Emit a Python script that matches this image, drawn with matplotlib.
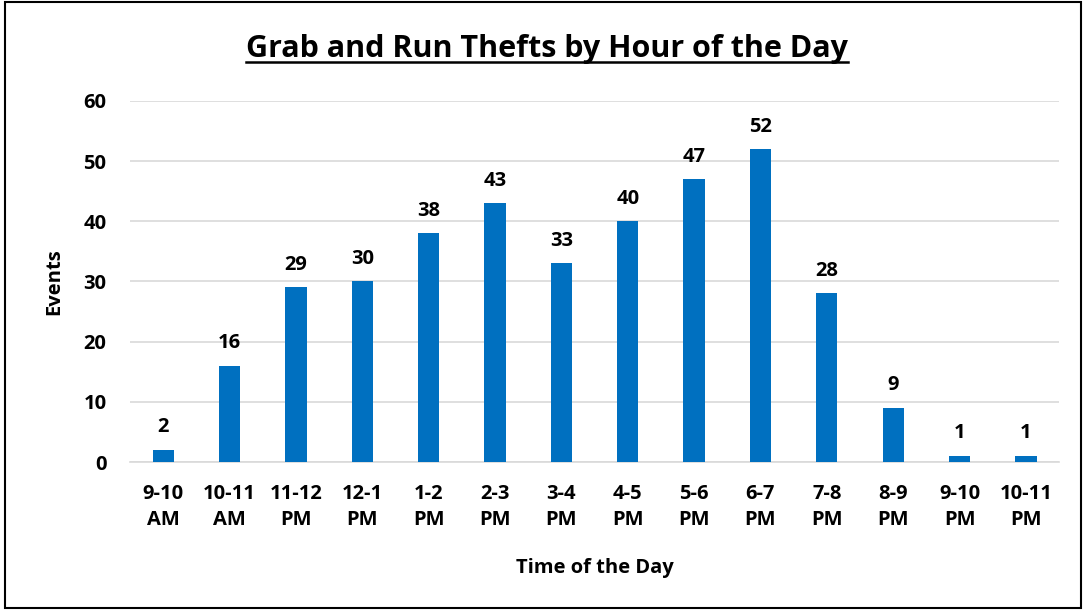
import matplotlib.pyplot as plt
from matplotlib.patches import Rectangle
from matplotlib.lines import Line2D

horas = ["9-10\nAM", "10-11\nAM", "11-12\nPM", "12-1\nPM", "1-2\nPM", "2-3\nPM",
         "3-4\nPM", "4-5\nPM", "5-6\nPM", "6-7\nPM", "7-8\nPM", "8-9\nPM",
         "9-10\nPM", "10-11\nPM"]
eventos = [2, 16, 29, 30, 38, 43, 33, 40, 47, 52, 28, 9, 1, 1]
y_ticks = [0, 10, 20, 30, 40, 50, 60]

plt.rcParams["font.family"] = ["Open Sans", "DejaVu Sans"]
plt.rcParams["font.weight"] = "bold"

fig = plt.figure(figsize=(10.86, 6.10), dpi=100)
ax = fig.add_axes([0.1197, 0.2426, 0.8555, 0.592])

x = range(len(horas))
barras = ax.bar(x, eventos, width=0.32, color="#0070C0", zorder=3)

for xi, v in zip(x, eventos):
    ax.annotate(str(v), (xi, v), xytext=(0, 9), textcoords="offset points",
                ha="center", va="bottom", fontsize=14.5, fontweight="bold")

ax.set_xlim(-0.5, len(horas) - 0.5)
ax.set_ylim(0, 60)
ax.set_yticks(y_ticks)
ax.set_xticks(list(x))
ax.set_xticklabels(horas, fontsize=14.5, fontweight="bold", linespacing=1.4)
ax.tick_params(axis="y", labelsize=14.5, length=0, pad=17)
ax.tick_params(axis="x", length=0, pad=16)
ax.grid(True, axis="y", color="#d9d9d9", linewidth=1.2, zorder=0)
for s in ["top", "right", "left"]:
    ax.spines[s].set_visible(False)
ax.spines["bottom"].set_color("#d9d9d9")
ax.spines["bottom"].set_linewidth(1.2)

ax.set_ylabel("Events", fontsize=14.5, fontweight="bold", labelpad=14)
ax.set_xlabel("Time of the Day", fontsize=14.5, fontweight="bold", labelpad=20)

titulo = fig.text(0.504, 0.92, "Grab and Run Thefts by Hour of the Day",
                  ha="center", va="center", fontsize=22, fontweight="bold")

# subrayado del titulo
fig.canvas.draw()
bb = titulo.get_window_extent().transformed(fig.transFigure.inverted())
fig.add_artist(Line2D([bb.x0, bb.x1], [bb.y0 + 0.003, bb.y0 + 0.003],
                      transform=fig.transFigure, color="black", linewidth=1.8))

# borde de la figura
fig.add_artist(Rectangle((0.005, 0.004), 0.99, 0.992, transform=fig.transFigure,
                         fill=False, edgecolor="black", linewidth=1.5))

fig.savefig("out.png", dpi=100)
